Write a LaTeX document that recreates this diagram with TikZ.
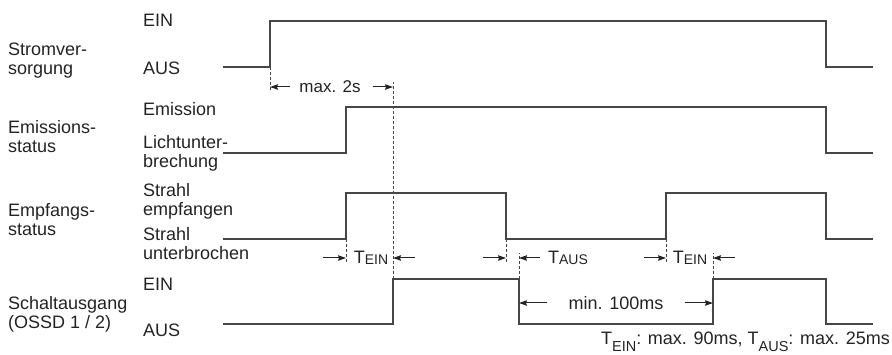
\documentclass[tikz,border=0pt]{standalone}
\usepackage{fontspec}
\setmainfont{Liberation Sans}
\usetikzlibrary{arrows.meta}
\definecolor{sigline}{RGB}{70, 70, 70}
\definecolor{labeltext}{RGB}{35, 35, 35}

\begin{document}
\begin{tikzpicture}[x=1pt, y=-1pt,
    wave/.style={draw=sigline, line width=1.4pt},
    guide/.style={draw=sigline, line width=0.8pt, dash pattern=on 3pt off 2pt},
    dimarrow/.style={draw=labeltext, line width=1pt, -{Stealth[length=8pt,width=5.5pt,inset=1pt]}},
    sidelabel/.style={anchor=north west, inner sep=0pt, align=left, text=labeltext,
                      font=\fontsize{18}{19}\selectfont},
    timelabel/.style={inner sep=0pt, text=labeltext, font=\fontsize{18}{19}\selectfont}
  ]
  \useasboundingbox (0,0) rectangle (892,355);

  % signal names
  \node[sidelabel] (power)    at (8,43)  {Stromver-\\sorgung};
  \node[sidelabel] (emission) at (8,120) {Emissions-\\status};
  \node[sidelabel] (receiver) at (8,203) {Empfangs-\\status};
  \node[sidelabel] (output)   at (8,296) {Schaltausgang\\(OSSD 1 / 2)};

  % states
  \node[sidelabel] (pwrOn)   at (143,14)  {EIN};
  \node[sidelabel] (pwrOff)  at (143,62)  {AUS};
  \node[sidelabel] (emOn)    at (143,102) {Emission};
  \node[sidelabel] (emOff)   at (143,135) {Lichtunter-\\brechung};
  \node[sidelabel] (rxOn)    at (143,183) {Strahl\\empfangen};
  \node[sidelabel] (rxOff)   at (143,227) {Strahl\\unterbrochen};
  \node[sidelabel] (outOn)   at (143,278) {EIN};
  \node[sidelabel] (outOff)  at (143,324) {AUS};

  % waveforms
  \draw[wave] (223,67) -- (270,67) coordinate (pwrUp) -- (270,21) -- (826,21)
              -- (826,67) -- (873,67);
  \draw[wave] (223,153) -- (346,153) -- (346,107) -- (826,107) -- (826,153) -- (873,153);
  \draw[wave] (223,239) -- (346,239) coordinate (rxUp) -- (346,193) -- (506,193)
              -- (506,239) coordinate (rxDown) -- (666,239) coordinate (rxUp2)
              -- (666,193) -- (826,193) -- (826,239) -- (873,239);
  \draw[wave] (223,324) -- (393,324) -- (393,279) coordinate (outUp)
              -- (519,279) coordinate (outDown) -- (519,324) -- (713,324)
              -- (713,279) coordinate (outUp2) -- (826,279) -- (826,324) -- (873,324);

  % guide lines
  \draw[guide] (pwrUp) -- ++(0,23);
  \draw[guide] (outUp) -- ++(0,-197);
  \draw[guide] (rxUp) -- ++(0,24);
  \draw[guide] (rxDown) -- ++(0,24);
  \draw[guide] (rxUp2) -- ++(0,24);
  \draw[guide] (outDown) -- ++(0,-26);
  \draw[guide] (outUp2) -- ++(0,-26);

  % timing labels
  \node[timelabel, font=\fontsize{17}{19}\selectfont] (start) at (330,87) {max. 2s};
  \node[timelabel] (tein1) at (371,258) {T\raisebox{-1pt}{\fontsize{14}{14}\selectfont EIN}};
  \node[timelabel] (taus)  at (568,258) {T\raisebox{-1pt}{\fontsize{14}{14}\selectfont AUS}};
  \node[timelabel] (tein2) at (690,258) {T\raisebox{-1pt}{\fontsize{14}{14}\selectfont EIN}};
  \node[timelabel] (pause) at (616,303) {min. 100ms};
  \node[timelabel, anchor=base east] (note) at (890,345)
    {T\raisebox{-6pt}{\fontsize{14.5}{14}\selectfont EIN}: max. 90ms,
     T\raisebox{-6pt}{\fontsize{14.5}{14}\selectfont AUS}: max. 25ms};

  % dimension arrows
  \draw[dimarrow] ([xshift=-9pt]start.west) -- (pwrUp |- start);
  \draw[dimarrow] ([xshift=12pt]start.east) -- (outUp |- start);
  \draw[dimarrow] ([xshift=-23pt]rxUp |- tein1) -- (rxUp |- tein1);
  \draw[dimarrow] ([xshift=22pt]outUp |- tein1) -- (outUp |- tein1);
  \draw[dimarrow] ([xshift=-23pt]rxDown |- taus) -- (rxDown |- taus);
  \draw[dimarrow] ([xshift=21pt]outDown |- taus) -- (outDown |- taus);
  \draw[dimarrow] ([xshift=-22pt]rxUp2 |- tein2) -- (rxUp2 |- tein2);
  \draw[dimarrow] ([xshift=22pt]outUp2 |- tein2) -- (outUp2 |- tein2);
  \draw[dimarrow] ([xshift=-21pt]pause.west) -- (outDown |- pause);
  \draw[dimarrow] ([xshift=21pt]pause.east) -- (outUp2 |- pause);
\end{tikzpicture}
\end{document}
